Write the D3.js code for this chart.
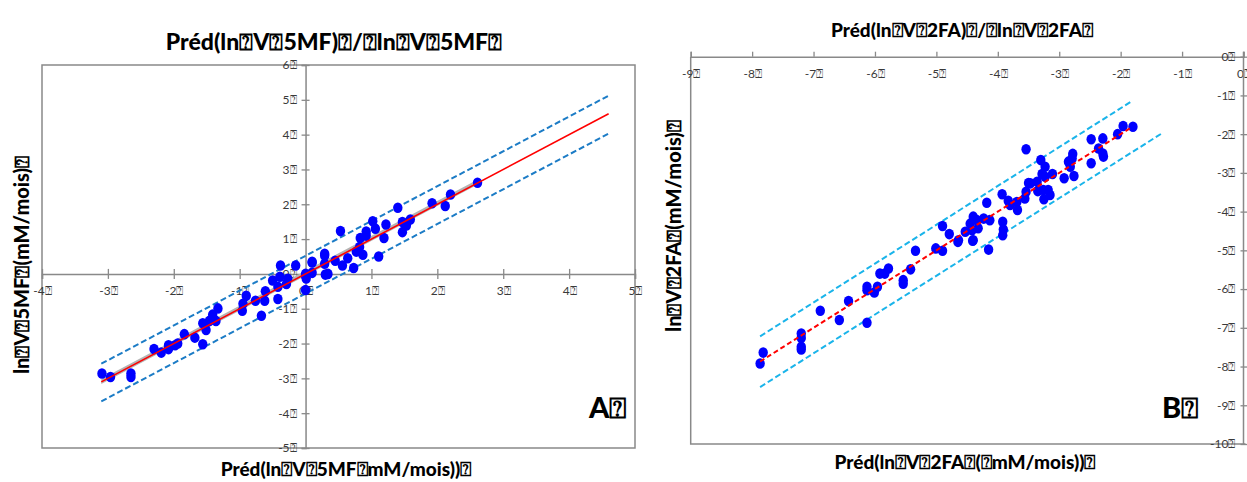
<!DOCTYPE html>
<html><head><meta charset="utf-8">
<script src="https://cdn.jsdelivr.net/npm/d3@7"></script>
<style>
body{margin:0;background:#fff;}
svg{display:block;font-family:Lato,"Open Sans",sans-serif;}
</style></head>
<body><svg id="c" width="1247" height="482"></svg>
<script>
const Q = "\u2370";
// ---- Panel A data ----
const aTitle = "Préd(ln"+Q+"V"+Q+"5MF)"+Q+"/"+Q+"ln"+Q+"V"+Q+"5MF"+Q;
const aXLabel = "Préd(ln"+Q+"V"+Q+"5MF"+Q+"mM/mois))"+Q;
const aYLabel = "ln"+Q+"V"+Q+"5MF"+Q+"(mM/mois)"+Q;
const aXTicks = [-4,-3,-2,-1,0,1,2,3,4,5];
const aYTicks = [-5,-4,-3,-2,-1,0,1,2,3,4,5,6];
const aPredX = [-3.09,-2.96,-2.65,-2.65,-2.30,-2.19,-2.08,-2.08,-1.98,-1.94,-1.84,-1.68,-1.56,-1.56,-1.51,-1.46,-1.41,-1.36,-1.33,
  -0.96,-0.95,-0.90,-0.76,-0.67,-0.62,-0.61,-0.50,-0.42,-0.42,-0.39,-0.38,-0.29,-0.27,-0.15,0.00,0.00,0.10,0.29,0.30,
  0.00,0.01,0.10,0.10,0.29,0.29,0.34,0.45,0.56,0.64,0.73,0.53,0.77,0.82,0.83,0.87,0.92,0.92,1.02,1.06,1.11,1.19,1.22,
  1.40,1.47,1.47,1.53,1.59,1.92,2.12,2.20,2.61];
const aObsY = [-2.86,-2.96,-2.86,-2.96,-2.16,-2.26,-2.05,-2.16,-2.05,-2.00,-1.73,-1.83,-2.02,-1.42,-1.61,-1.35,-1.17,-1.35,-0.99,
  -1.06,-0.86,-0.63,-0.77,-1.20,-0.77,-0.50,-0.19,-0.72,-0.37,-0.08,0.24,-0.29,-0.14,0.24,-0.05,-0.46,0.33,0.53,-0.02,
  0.00,-0.13,0.35,0.03,0.58,0.29,0.00,0.38,0.24,0.45,0.17,1.23,0.64,0.77,1.03,0.55,1.22,1.10,1.51,1.30,0.50,1.03,1.42,
  1.90,1.49,1.20,1.39,1.56,2.03,1.95,2.28,2.62];
const aFitX = [-3.1, 4.6];
const aFitY = [-3.1, 4.6];
const aUpperY = [-2.58, 5.12];
const aLowerY = [-3.66, 4.03];
const aBandX = [-3.1, 2.6];
const aBandLo = [-3.16, 2.55];
const aBandHi = [-3.02, 2.7];

// ---- Panel B data ----
const bTitle = "Préd(ln"+Q+"V"+Q+"2FA)"+Q+"/"+Q+"ln"+Q+"V"+Q+"2FA"+Q;
const bXLabel = "Préd(ln"+Q+"V"+Q+"2FA"+Q+"("+Q+"mM/mois))"+Q;
const bYLabel = "ln"+Q+"V"+Q+"2FA"+Q+"(mM/mois)"+Q;
const bXTicks = [-9,-8,-7,-6,-5,-4,-3,-2,-1,0];
const bYTicks = [-10,-9,-8,-7,-6,-5,-4,-3,-2,-1,0];
const bPredX = [-7.87,-7.82,-7.20,-7.20,-7.20,-7.20,-6.89,-6.58,-6.43,-6.13,-6.13,-6.13,-6.01,-5.96,-5.92,-5.84,-5.78,
  -5.54,-5.54,-5.42,-5.34,-5.01,-4.90,-4.65,-4.90,-4.79,-4.64,-4.53,-4.45,-4.42,-4.40,-4.40,-4.34,-4.32,-4.23,-4.13,
  -4.18,-4.15,-3.92,-3.91,-3.92,-3.93,-3.83,-3.80,-3.69,-3.68,-3.56,-3.54,-3.54,-3.50,-3.47,-3.36,-3.35,-3.30,-3.28,
  -3.26,-3.25,-3.23,-3.23,-3.18,-3.15,-3.11,-2.92,-2.85,-2.82,-2.79,-2.78,-2.76,-2.48,-2.48,-2.36,-2.29,-2.29,-2.28,
  -2.05,-1.96,-1.80,-4.41];
const bObsY = [-7.92,-7.64,-7.15,-7.26,-7.49,-7.56,-6.56,-6.80,-6.31,-5.94,-6.03,-6.87,-6.09,-5.94,-5.60,-5.60,-5.47,
  -5.77,-5.86,-5.49,-5.01,-4.95,-5.01,-4.78,-4.37,-4.58,-4.74,-4.52,-4.31,-4.48,-4.74,-4.13,-4.22,-4.43,-4.18,-4.22,
  -3.77,-4.98,-4.26,-4.46,-4.61,-3.55,-3.72,-3.83,-3.75,-3.96,-3.66,-3.49,-2.39,-3.26,-3.27,-3.23,-3.47,-2.67,-3.03,
  -3.44,-3.68,-2.84,-3.10,-3.44,-3.57,-3.03,-3.14,-2.71,-2.84,-2.63,-2.51,-3.08,-2.13,-2.75,-2.37,-2.11,-2.50,-2.58,
  -2.00,-1.79,-1.81,-4.75];
const bFitX = [-7.87, -1.82];
const bFitY = [-7.87, -1.82];
const bUpperX = [-7.87, -1.84];
const bUpperY = [-7.22, -1.17];
const bLowerX = [-7.87, -1.33];
const bLowerY = [-8.53, -1.98];

const svg = d3.select("#c");
const AX = "#898989", TXT = "#3a3a3a";

function styleAxis(g){
  g.select(".domain").attr("stroke",AX).attr("stroke-width",1.5);
  g.selectAll(".tick line").attr("stroke",AX).attr("stroke-width",1.3);
  g.selectAll(".tick text").attr("fill",TXT).style("font-size","12px").style("font-family","Lato,sans-serif");
}
function bold(sel,size){
  return sel.style("font-size",size+"px").style("font-weight","900").attr("fill","#000");
}

// ================= Panel A =================
const xA = d3.scaleLinear().domain([-4,5]).range([42,635]);
const yA = d3.scaleLinear().domain([-5,6]).range([448,65]);
const gA = svg.append("g");
gA.append("rect").attr("x",xA(-4)).attr("y",yA(6)).attr("width",xA(5)-xA(-4)).attr("height",yA(-5)-yA(6))
  .attr("fill","none").attr("stroke",AX).attr("stroke-width",1.5);

const xAxA = gA.append("g").attr("transform",`translate(0,${yA(0)})`)
  .call(d3.axisBottom(xA).tickValues(aXTicks).tickFormat(d=>d+Q).tickSizeOuter(0).tickSize(5));
styleAxis(xAxA);
xAxA.selectAll(".tick line").attr("y1",-5).attr("y2",5);
xAxA.selectAll(".tick text").attr("y",13);

const yAxA = gA.append("g").attr("transform",`translate(${xA(0)},0)`)
  .call(d3.axisLeft(yA).tickValues(aYTicks).tickFormat(d=>d+Q).tickSizeOuter(0).tickSize(4).tickPadding(5));
styleAxis(yAxA);
yAxA.selectAll(".tick line").attr("x1",-4).attr("x2",4);

// gray confidence band
gA.append("path").datum(aBandX.map((x,i)=>({x,lo:aBandLo[i],hi:aBandHi[i]})))
  .attr("d",d3.area().x(d=>xA(d.x)).y0(d=>yA(d.lo)).y1(d=>yA(d.hi)))
  .attr("fill","#b4b4b4");

const lineA = d3.line().x(d=>xA(d[0])).y(d=>yA(d[1]));
gA.append("path").attr("d",lineA(d3.zip(aFitX,aUpperY))).attr("stroke","#1c7cc6").attr("stroke-width",2)
  .attr("stroke-dasharray","6,3").attr("fill","none");
gA.append("path").attr("d",lineA(d3.zip(aFitX,aLowerY))).attr("stroke","#1c7cc6").attr("stroke-width",2)
  .attr("stroke-dasharray","6,3").attr("fill","none");

gA.selectAll("ellipse.pt").data(d3.zip(aPredX,aObsY)).join("ellipse").attr("class","pt")
  .attr("cx",d=>xA(d[0])).attr("cy",d=>yA(d[1])).attr("rx",4.7).attr("ry",5.3).attr("fill","#0000ff");

gA.append("path").attr("d",lineA(d3.zip(aFitX,aFitY))).attr("stroke","#ff0000").attr("stroke-width",1.6).attr("fill","none");

bold(gA.append("text").attr("x",334).attr("y",50).attr("text-anchor","middle"),23).text(aTitle);
bold(gA.append("text").attr("x",346).attr("y",476).attr("text-anchor","middle"),19).text(aXLabel);
bold(gA.append("text").attr("transform","translate(29,265) rotate(-90)").attr("text-anchor","middle"),20).text(aYLabel);
bold(gA.append("text").attr("x",589).attr("y",418),29).text("A"+Q);

// ================= Panel B =================
const xB = d3.scaleLinear().domain([-9,0]).range([690.7,1243.5]);
const yB = d3.scaleLinear().domain([-10,0]).range([444,56.7]);
const gB = svg.append("g");
gB.append("path").attr("d",`M${xB(-9)},${yB(0)}V${yB(-10)}H${xB(0)+2}`).attr("fill","none")
  .attr("stroke",AX).attr("stroke-width",1.5);

const xAxB = gB.append("g").attr("transform",`translate(0,${yB(0)})`)
  .call(d3.axisTop(xB).tickValues(bXTicks).tickFormat(d=>d+Q).tickSizeOuter(0).tickSize(5));
styleAxis(xAxB);
xAxB.selectAll(".tick text").attr("y",13).attr("dy","0.71em");

const yAxB = gB.append("g").attr("transform",`translate(${xB(0)},0)`)
  .call(d3.axisLeft(yB).tickValues(bYTicks).tickFormat(d=>d+Q).tickSizeOuter(0).tickSize(3).tickPadding(5));
styleAxis(yAxB);
yAxB.selectAll(".tick line").attr("x1",-3).attr("x2",4);
yAxB.select(".domain").attr("d",`M0,${yB(0)-5}V${yB(-10)}`);

const lineB = d3.line().x(d=>xB(d[0])).y(d=>yB(d[1]));
gB.append("path").attr("d",lineB(d3.zip(bUpperX,bUpperY))).attr("stroke","#1ab4ea").attr("stroke-width",2)
  .attr("stroke-dasharray","6,3").attr("fill","none");
gB.append("path").attr("d",lineB(d3.zip(bLowerX,bLowerY))).attr("stroke","#1ab4ea").attr("stroke-width",2)
  .attr("stroke-dasharray","6,3").attr("fill","none");

gB.selectAll("ellipse.pt").data(d3.zip(bPredX,bObsY)).join("ellipse").attr("class","pt")
  .attr("cx",d=>xB(d[0])).attr("cy",d=>yB(d[1])).attr("rx",4.7).attr("ry",5.3).attr("fill","#0000ff");

gB.append("path").attr("d",lineB(d3.zip(bFitX,bFitY))).attr("stroke","#ff0000").attr("stroke-width",2)
  .attr("stroke-dasharray","5,3").attr("fill","none");

bold(gB.append("text").attr("x",962).attr("y",37).attr("text-anchor","middle"),19).text(bTitle);
bold(gB.append("text").attr("x",965).attr("y",469).attr("text-anchor","middle"),19).text(bXLabel);
bold(gB.append("text").attr("transform","translate(681,226) rotate(-90)").attr("text-anchor","middle"),20).text(bYLabel);
bold(gB.append("text").attr("x",1162).attr("y",418),29).text("B"+Q);
</script></body></html>
